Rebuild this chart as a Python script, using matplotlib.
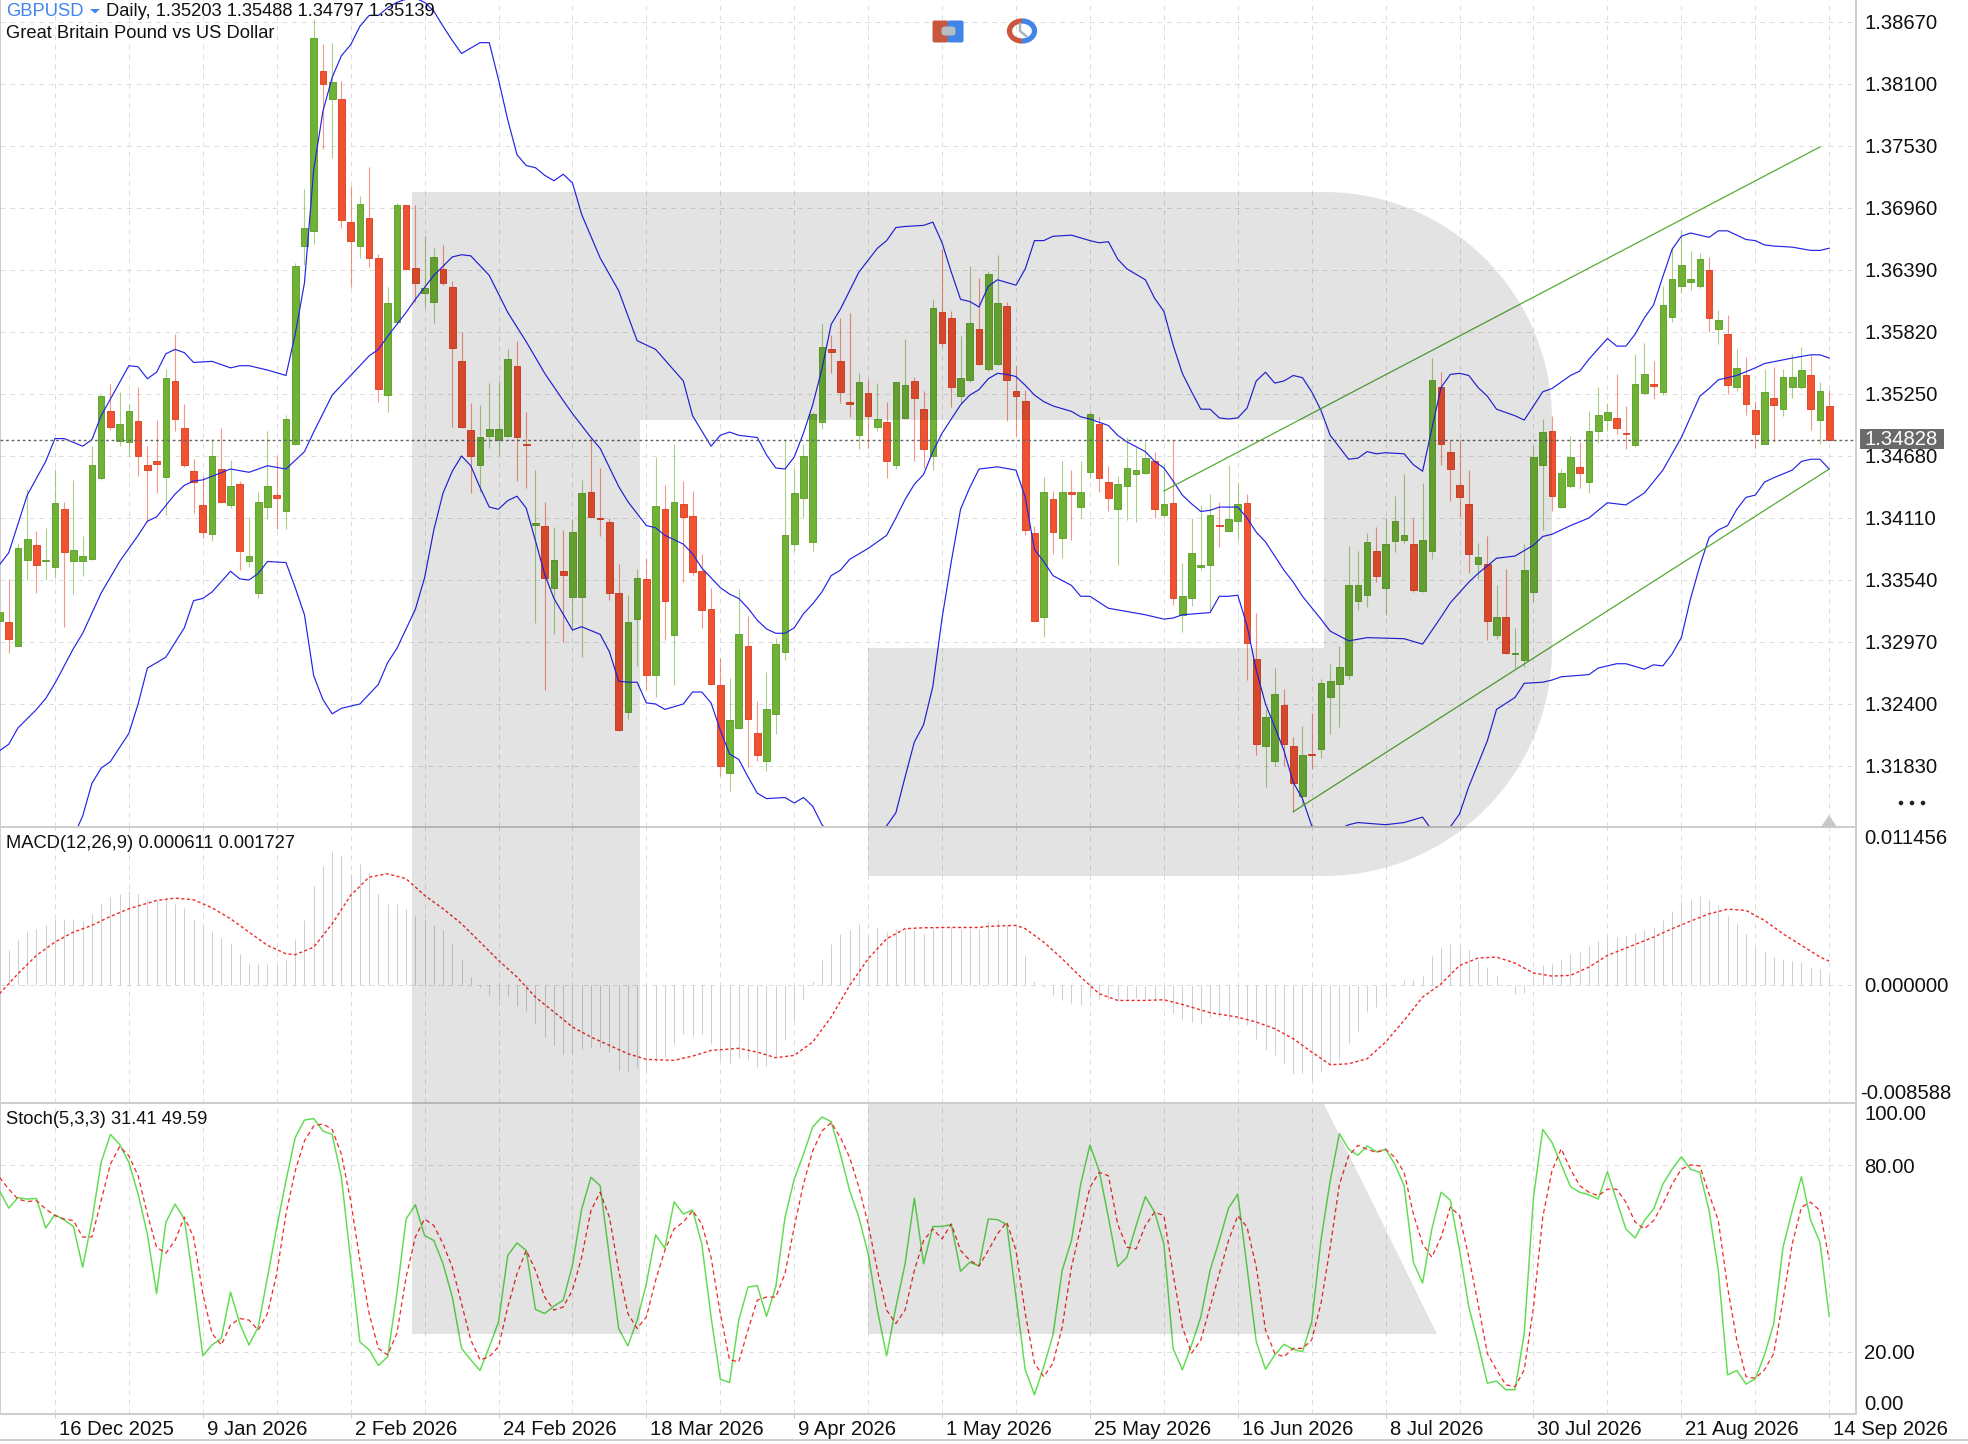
import matplotlib
matplotlib.use("Agg")
import matplotlib.pyplot as plt
from matplotlib.patches import Arc, FancyBboxPatch, PathPatch, Polygon, Rectangle, Circle
from matplotlib.path import Path
from matplotlib.transforms import ScaledTranslation

plt.rcParams["font.family"] = ["Liberation Sans", "DejaVu Sans"]

# candles, prices in 1/10000
open_pips = [13316,13315,13293,13372,13386,13371,13366,13419,13371,13371,
13373,13448,13509,13482,13481,13500,13460,13463,13449,13537,
13494,13454,13423,13396,13456,13423,13442,13371,13342,13421,
13432,13417,13479,13661,13675,13822,13796,13796,13683,13661,
13687,13650,13524,13591,13699,13641,13618,13610,13640,13623,
13555,13492,13460,13486,13483,13486,13551,13479,13405,13404,
13347,13362,13338,13338,13435,13411,13407,13342,13233,13318,
13355,13267,13419,13303,13424,13413,13362,13327,13257,13177,
13218,13293,13213,13188,13231,13288,13387,13429,13389,13499,
13566,13555,13518,13487,13526,13495,13499,13460,13503,13537,
13511,13468,13600,13595,13523,13538,13585,13548,13553,13606,
13528,13519,13397,13320,13428,13393,13435,13421,13453,13497,
13444,13419,13440,13451,13452,13463,13414,13425,13322,13337,
13366,13368,13405,13399,13408,13425,13281,13201,13188,13239,
13201,13155,13194,13199,13246,13258,13267,13335,13340,13381,
13347,13390,13391,13387,13344,13381,13531,13472,13441,13424,
13369,13369,13303,13320,13286,13280,13343,13460,13491,13421,
13440,13458,13444,13491,13501,13503,13489,13478,13526,13534,
13527,13596,13624,13628,13624,13639,13585,13580,13531,13542,
13510,13479,13521,13511,13531,13531,13542,13501,13514]
high_pips = [13334,13355,13388,13438,13399,13402,13456,13426,13446,13394,
13477,13524,13534,13527,13516,13531,13477,13501,13548,13580,
13516,13465,13450,13484,13494,13464,13445,13412,13435,13491,
13468,13506,13645,13713,13870,13847,13848,13813,13716,13707,
13734,13654,13623,13701,13699,13699,13670,13659,13662,13629,
13582,13517,13515,13535,13537,13566,13574,13508,13455,13426,
13403,13400,13410,13446,13484,13457,13411,13369,13340,13364,
13374,13467,13441,13479,13445,13436,13378,13347,13282,13264,
13346,13321,13243,13269,13301,13484,13457,13479,13508,13589,
13579,13595,13599,13544,13539,13535,13518,13536,13576,13541,
13528,13612,13658,13601,13578,13643,13632,13638,13653,13610,
13551,13529,13404,13449,13436,13463,13455,13463,13509,13504,
13459,13450,13485,13476,13481,13472,13461,13483,13370,13411,
13423,13433,13426,13460,13443,13433,13324,13235,13273,13254,
13210,13220,13232,13263,13277,13293,13385,13381,13397,13403,
13411,13431,13451,13411,13443,13558,13545,13483,13483,13455,
13388,13394,13349,13364,13310,13387,13477,13502,13505,13456,
13486,13481,13509,13531,13517,13543,13514,13562,13572,13555,
13624,13660,13676,13656,13655,13651,13602,13598,13566,13559,
13519,13548,13550,13548,13562,13568,13561,13536,13529]
low_pips = [13308,13287,13293,13354,13342,13354,13356,13311,13341,13358,
13372,13446,13492,13477,13468,13450,13407,13434,13414,13491,
13458,13416,13393,13390,13425,13420,13363,13366,13337,13410,
13401,13401,13478,13644,13663,13750,13742,13678,13623,13650,
13642,13518,13508,13589,13639,13610,13605,13590,13625,13495,
13494,13434,13435,13475,13469,13485,13445,13439,13314,13253,
13304,13297,13310,13283,13411,13394,13336,13215,13226,13275,
13253,13246,13299,13257,13352,13359,13310,13258,13174,13160,
13217,13182,13188,13178,13212,13280,13381,13411,13381,13493,
13544,13517,13504,13474,13475,13491,13448,13456,13503,13463,
13457,13455,13568,13513,13516,13536,13552,13546,13552,13500,
13486,13395,13316,13302,13378,13374,13391,13411,13448,13435,
13417,13368,13409,13407,13451,13411,13411,13331,13306,13330,
13363,13325,13384,13398,13391,13262,13193,13164,13183,13183,
13141,13147,13180,13190,13212,13219,13263,13326,13329,13352,
13322,13380,13388,13343,13343,13373,13460,13427,13412,13360,
13355,13299,13300,13286,13273,13274,13334,13400,13417,13420,
13439,13439,13434,13480,13491,13488,13474,13476,13525,13520,
13524,13591,13618,13621,13622,13582,13571,13525,13528,13506,
13475,13479,13481,13505,13521,13530,13492,13479,13483]
close_pips = [13325,13300,13383,13392,13368,13372,13425,13380,13382,13376,
13460,13523,13495,13497,13509,13468,13455,13461,13540,13502,
13460,13444,13398,13468,13426,13440,13381,13376,13426,13440,
13429,13502,13643,13678,13852,13810,13812,13685,13666,13700,
13650,13530,13609,13699,13640,13627,13622,13651,13627,13567,
13495,13468,13485,13493,13493,13557,13485,13478,13406,13356,
13372,13359,13398,13434,13412,13410,13342,13216,13315,13356,
13267,13422,13335,13426,13412,13361,13326,13258,13183,13225,
13304,13226,13193,13235,13295,13395,13434,13468,13507,13568,
13564,13527,13516,13536,13505,13502,13463,13536,13533,13521,
13474,13604,13572,13531,13540,13590,13553,13635,13609,13538,
13523,13400,13316,13435,13398,13435,13433,13435,13507,13448,
13429,13442,13457,13455,13466,13419,13424,13337,13339,13379,
13368,13414,13404,13410,13424,13296,13203,13228,13249,13203,
13167,13193,13193,13259,13261,13274,13349,13349,13389,13358,
13387,13408,13395,13345,13391,13538,13479,13456,13430,13378,
13375,13316,13320,13287,13287,13363,13467,13490,13431,13452,
13467,13452,13491,13506,13508,13494,13488,13534,13543,13532,
13607,13631,13644,13631,13649,13595,13593,13533,13549,13516,
13488,13527,13515,13541,13541,13547,13511,13528,13483]

# bollinger bands, read at the bends
upper_idx = [0,1,3,5,6,7,9,10,11,14,15,16,17,18,19,20,21,23,25,26,27,29,31,32,33,34,35,36,37,38,39,40,41,42,43,44,45,46,47,48,49,50,51,52,53,54,55,56,57,58,59,60,61,62,63,65,67,69,71,74,75,77,78,79,80,82,83,84,85,86,87,88,89,90,91,92,93,95,96,97,98,100,101,102,103,104,105,106,107,108,110,111,112,113,114,116,118,119,120,121,122,124,125,126,127,128,129,130,131,132,133,134,135,136,137,138,139,140,141,142,143,144,146,147,148,149,150,152,153,154,155,156,157,158,159,160,161,162,164,165,166,167,168,170,171,172,174,175,176,177,178,179,180,181,182,183,185,186,187,188,189,190,191,192,194,196,197,198]
upper_pips = [13368,13379,13432,13463,13484,13484,13477,13483,13505,13551,13550,13539,13545,13562,13566,13563,13554,13555,13549,13551,13551,13547,13542,13580,13627,13731,13785,13816,13836,13846,13863,13873,13873,13880,13885,13888,13889,13885,13877,13863,13850,13838,13843,13848,13848,13814,13777,13745,13735,13733,13726,13721,13727,13719,13690,13650,13620,13574,13566,13537,13505,13477,13487,13490,13487,13485,13469,13457,13456,13467,13489,13515,13548,13589,13603,13620,13637,13659,13666,13678,13679,13680,13683,13664,13637,13612,13610,13605,13624,13630,13625,13640,13666,13666,13670,13671,13666,13664,13665,13649,13640,13630,13613,13601,13570,13544,13527,13511,13511,13503,13502,13503,13512,13537,13545,13535,13537,13542,13540,13527,13510,13487,13465,13466,13472,13470,13471,13470,13460,13454,13493,13531,13543,13544,13542,13531,13523,13511,13505,13501,13514,13527,13530,13542,13546,13557,13576,13569,13569,13580,13595,13607,13633,13658,13670,13673,13669,13675,13675,13671,13667,13666,13662,13661,13660,13657,13657,13659]
middle_idx = [0,1,2,4,5,6,8,9,11,13,15,16,17,19,20,21,22,25,27,29,31,33,34,36,38,40,41,42,44,45,47,49,50,51,53,55,57,59,61,62,64,65,67,68,69,70,71,72,74,75,76,77,78,79,80,81,82,83,84,85,86,87,88,89,90,91,92,93,94,95,96,97,98,99,100,101,102,103,104,105,106,107,108,109,110,111,112,113,114,116,117,118,120,121,122,124,125,126,127,128,129,130,131,132,134,135,136,137,139,140,141,143,144,146,148,152,154,156,157,159,160,162,164,166,167,168,170,172,174,176,178,180,182,184,185,186,188,190,191,194,196,197,198]
middle_pips = [13197,13203,13218,13235,13245,13259,13291,13305,13342,13371,13395,13408,13412,13433,13441,13445,13446,13456,13453,13459,13456,13472,13490,13524,13542,13560,13566,13578,13600,13612,13634,13651,13653,13652,13634,13600,13573,13544,13519,13507,13485,13475,13440,13426,13415,13404,13402,13395,13387,13378,13365,13356,13347,13341,13337,13328,13317,13309,13305,13305,13310,13323,13332,13343,13358,13363,13373,13378,13383,13389,13395,13411,13428,13442,13451,13472,13489,13502,13515,13524,13529,13539,13544,13543,13541,13533,13524,13518,13514,13509,13504,13502,13496,13487,13481,13472,13463,13457,13445,13432,13424,13417,13418,13421,13421,13411,13398,13389,13363,13352,13339,13318,13307,13298,13301,13300,13295,13320,13333,13352,13360,13374,13376,13386,13394,13396,13404,13411,13425,13423,13434,13455,13485,13523,13530,13538,13542,13549,13553,13558,13561,13561,13558]
lower_idx = [8,9,10,11,12,14,15,16,18,20,21,22,23,25,26,27,28,29,31,32,33,34,35,36,37,39,41,42,43,45,46,47,48,49,50,51,52,53,54,55,56,57,58,59,60,62,63,65,66,67,68,69,70,71,72,74,75,76,77,78,79,80,81,82,83,85,86,87,88,89,90,93,95,96,97,98,99,100,101,102,103,104,105,106,108,110,111,112,113,114,116,117,118,120,124,126,127,128,131,132,133,134,135,136,137,138,139,140,141,142,143,144,145,146,147,150,152,154,155,156,157,158,159,161,162,164,165,167,168,169,172,173,175,176,178,179,180,181,182,183,184,185,186,187,188,189,190,191,192,194,195,196,197,198]
lower_pips = [13118,13137,13167,13181,13187,13213,13240,13273,13283,13310,13335,13337,13343,13362,13355,13354,13360,13371,13370,13347,13322,13266,13244,13231,13236,13240,13258,13278,13291,13327,13356,13400,13434,13454,13468,13459,13439,13421,13419,13427,13431,13420,13390,13359,13337,13308,13311,13304,13288,13261,13260,13260,13241,13240,13235,13240,13251,13251,13241,13216,13194,13189,13173,13158,13153,13154,13149,13154,13146,13129,13120,13090,13120,13128,13140,13173,13205,13221,13256,13319,13371,13419,13439,13456,13458,13455,13430,13382,13371,13358,13349,13339,13339,13328,13322,13318,13319,13322,13324,13339,13339,13340,13312,13271,13240,13219,13197,13168,13153,13128,13124,13122,13125,13129,13131,13129,13131,13136,13124,13119,13127,13139,13164,13206,13235,13246,13259,13260,13262,13265,13267,13273,13277,13277,13272,13276,13275,13286,13301,13337,13367,13393,13400,13404,13419,13430,13432,13444,13448,13455,13463,13465,13465,13456]

# green channel, candle index and price at both ends
channel_upper_idx = [126, 197]
channel_upper = [1.34358, 1.37521]
channel_lower_idx = [140, 198]
channel_lower = [1.31409, 1.34560]

last_price = 1.34828

price_ticks = [1.38670,1.38100,1.37530,1.36960,1.36390,1.35820,1.35250,1.34680,1.34110,1.33540,1.32970,1.32400,1.31830]
date_labels = ["16 Dec 2025","9 Jan 2026","2 Feb 2026","24 Feb 2026","18 Mar 2026","9 Apr 2026","1 May 2026","25 May 2026","16 Jun 2026","8 Jul 2026","30 Jul 2026","21 Aug 2026","14 Sep 2026"]

# macd, in 1/1000
macd_hist = [1.5,2.49,3.22,3.87,4.07,4.31,4.79,4.79,4.74,4.60,
5.15,5.95,6.36,6.61,6.78,6.56,6.12,6.12,6.17,5.88,
5.57,4.79,4.19,3.87,3.41,3.03,2.25,1.60,1.48,1.48,
1.48,1.82,3.29,4.72,7.16,8.62,9.68,9.39,8.06,8.74,
8.11,6.56,5.88,5.88,5.47,4.96,4.67,4.31,3.94,3.03,
1.77,0.56,-0.17,-0.77,-1.14,-0.85,-1.57,-1.91,-2.78,-3.80,
-4.40,-5.01,-5.01,-4.65,-4.53,-4.53,-4.89,-6.22,-6.27,-5.98,
-6.39,-5.61,-5.25,-4.33,-3.56,-3.75,-3.56,-4.28,-5.37,-5.74,
-5.30,-5.49,-5.98,-5.93,-5.25,-4.04,-2.59,-1.14,0.24,1.82,
2.98,3.65,3.99,4.38,3.58,4.19,3.82,4.07,3.94,3.94,
3.65,4.14,4.07,4.19,4.07,4.07,4.07,4.55,4.67,4.31,
4.24,2.13,0.24,-0.17,-0.77,-1.14,-1.33,-1.50,-0.90,-1.02,
-1.14,-1.14,-1.02,-0.94,-1.02,-1.09,-1.14,-2.06,-2.59,-2.71,
-2.88,-2.35,-2.35,-2.54,-2.59,-2.95,-3.92,-4.72,-5.08,-5.74,
-6.51,-6.39,-6.90,-6.34,-5.86,-5.37,-4.24,-3.36,-1.98,-1.62,
-0.90,-0.10,0.31,0.31,0.61,2.06,2.73,2.98,2.90,2.49,
1.82,1.28,0.61,-0.10,-0.70,-0.61,0.56,1.40,1.52,1.82,
2.20,2.37,2.78,3.17,3.46,3.46,3.58,3.75,3.99,4.14,
4.72,5.35,6.05,6.24,6.41,6.12,5.76,4.96,4.48,3.65,
2.73,2.44,2.01,1.84,1.69,1.65,1.28,1.16,0.56]
signal_idx = [0,2,4,6,8,10,12,14,17,19,21,23,25,27,29,31,32,34,36,38,40,42,44,46,48,50,52,54,56,58,60,62,64,66,68,70,73,75,77,80,82,84,86,88,90,92,94,96,98,100,103,106,107,110,111,113,115,117,119,121,124,126,128,131,134,136,138,140,142,144,146,148,150,152,154,156,158,160,162,164,166,168,170,172,174,177,179,181,183,185,187,189,191,193,195,197,198]
signal_vals = [-0.65,0.80,2.13,3.10,3.82,4.31,4.96,5.52,6.12,6.29,6.17,5.59,4.79,3.82,2.86,2.25,2.18,2.73,4.43,6.49,7.82,8.06,7.70,6.49,5.52,4.43,3.10,1.77,0.56,-0.90,-1.98,-3.07,-3.80,-4.40,-5.01,-5.42,-5.49,-5.18,-4.77,-4.62,-4.89,-5.30,-5.13,-4.16,-2.35,-0.05,1.89,3.34,4.07,4.14,4.16,4.16,4.24,4.31,4.07,3.10,1.89,0.56,-0.65,-1.14,-1.14,-1.09,-1.43,-2.03,-2.35,-2.71,-3.19,-3.92,-4.89,-5.81,-5.74,-5.37,-4.16,-2.59,-0.90,0.07,1.40,1.94,2.01,1.57,0.85,0.63,0.68,1.28,2.13,2.93,3.46,4.07,4.62,5.15,5.49,5.40,4.67,3.70,2.86,2.01,1.72]

stoch_k = [71.8,66.2,69.6,69.1,69.3,59.8,64.1,62.4,60.3,47.2,
62.2,80.9,89.9,86.7,80.9,70.7,57.9,38.7,61.6,67.5,
62.7,41.9,18.7,22.2,24.3,39.2,29.1,22.2,28.0,44.0,
60.0,75.0,88.9,94.5,95.0,91.0,89.9,76.1,49.4,23.2,
20.6,15.6,18.4,38.7,62.7,67.3,57.4,55.8,48.3,37.6,
21.1,17.4,14.0,21.6,29.6,51.0,55.0,52.6,33.6,32.3,
34.7,36.6,47.8,65.9,76.1,73.4,50.4,27.5,21.9,30.2,
41.9,57.6,53.3,68.2,64.3,65.6,54.7,31.2,11.2,10.1,
30.2,40.8,41.3,31.4,40.8,63.2,75.5,83.5,92.3,95.5,
94.0,83.5,71.8,63.2,51.5,33.4,18.7,34.4,48.3,69.4,
48.3,60.3,60.3,60.9,45.9,48.8,47.6,62.7,62.5,60.9,
37.6,14.2,6.2,15.2,25.4,46.2,55.8,73.9,86.5,78.2,
63.2,47.4,50.4,60.6,69.9,64.9,54.7,21.1,14.2,22.2,
31.2,46.2,55.8,66.2,70.7,47.2,23.2,14.4,19.0,22.4,
20.8,20.0,29.6,55.8,75.0,90.2,85.1,83.2,86.2,84.3,
85.1,80.3,73.4,48.8,42.1,59.5,71.3,68.8,52.6,34.4,
22.7,9.9,10.6,7.8,7.8,25.9,69.7,91.5,87.3,80.3,
73.1,71.3,70.5,69.1,77.9,68.6,59.5,56.6,62.2,65.9,
73.9,78.7,82.7,78.7,77.7,65.4,46.2,12.6,14.0,9.6,
11.3,19.0,29.1,53.6,65.4,76.3,62.2,55.2,31.41]
stoch_d = [76.1,72.3,69.1,68.3,68.6,65.9,63.8,62.7,62.2,56.9,
56.9,68.6,80.3,86.0,83.0,76.6,64.3,53.6,51.7,55.8,
63.3,56.9,38.7,25.9,22.2,28.6,30.7,30.2,27.0,32.3,
45.1,64.3,78.2,87.8,92.6,93.3,91.5,83.5,68.6,49.4,
32.3,21.1,19.0,25.9,44.0,56.9,62.7,60.6,54.7,47.2,
35.5,23.8,17.4,18.4,21.6,34.4,45.1,52.6,46.2,37.6,
33.4,34.4,39.8,50.4,65.4,71.3,63.3,46.2,32.3,27.5,
31.2,43.0,52.6,59.5,61.7,65.4,61.1,50.4,32.3,17.4,
16.8,27.0,36.6,37.6,37.6,45.1,60.1,73.9,84.6,91.0,
93.7,88.9,82.5,72.9,61.1,46.2,33.4,29.1,33.4,46.2,
55.8,59.5,56.3,61.1,52.6,49.4,47.6,52.6,57.9,61.7,
52.6,32.3,16.3,12.0,16.3,28.0,47.2,60.1,72.9,77.7,
76.6,61.1,53.6,53.1,60.6,64.9,63.8,45.1,28.0,19.5,
23.8,34.4,45.1,55.8,63.8,60.1,47.2,27.0,19.5,18.4,
21.1,21.1,23.8,35.5,53.6,73.9,83.0,86.4,85.1,84.1,
85.1,82.5,77.7,64.3,54.7,50.4,56.9,66.5,63.8,50.4,
35.5,19.5,14.2,9.4,8.8,14.2,34.4,63.3,78.2,85.3,
78.7,73.4,71.3,70.2,72.3,72.3,68.1,61.7,59.5,62.2,
67.5,73.9,78.7,80.1,79.8,70.7,62.2,40.8,23.8,12.0,
11.5,14.2,19.5,36.6,54.7,66.5,68.1,65.4,49.59]

GREEN = "#70b236"
GREEN_EDGE = "#64a431"
RED = "#f05232"
RED_EDGE = "#dc4a2c"
BLUE = "#2323e8"
GRID = "#dcdcdc"
AXIS = "#cdcdcd"
FONT_SIZE = 14.6

WIDTH = 1968
HEIGHT = 1444
PLOT_RIGHT = 1856
X_LEFT = 0.054
X_RIGHT = 200.9
DASH = (0, (5, 5))


def panel(fig, top, bottom):
    ax = fig.add_axes([0, 1 - bottom / HEIGHT, PLOT_RIGHT / WIDTH, (bottom - top) / HEIGHT])
    ax.set_facecolor("none")
    ax.set_xlim(X_LEFT, X_RIGHT)
    ax.yaxis.tick_right()
    ax.tick_params(axis="y", length=0, pad=6, labelsize=FONT_SIZE, labelcolor="#111111")
    ax.tick_params(axis="x", which="both", length=0, labelbottom=False)
    ax.set_xticks(list(range(6, 199, 8)))
    ax.grid(axis="x", color=GRID, linewidth=0.7, linestyle=DASH)
    for side in ax.spines:
        ax.spines[side].set_color(AXIS)
        ax.spines[side].set_linewidth(1.4)
    return ax


def nudgeLabel(lab, fig, dx, dy):
    lab.set_transform(lab.get_transform() + ScaledTranslation(dx / 100, dy / 100, fig.dpi_scale_trans))


def drawCandles(ax):
    idx = list(range(len(open_pips)))
    o = [v / 10000 for v in open_pips]
    h = [v / 10000 for v in high_pips]
    l = [v / 10000 for v in low_pips]
    c = [v / 10000 for v in close_pips]
    fill = [GREEN if c[i] >= o[i] else RED for i in idx]
    edge = [GREEN_EDGE if c[i] >= o[i] else RED_EDGE for i in idx]
    ax.vlines(idx, l, h, colors=fill, linewidth=0.8, alpha=0.6, zorder=2)
    bottoms = [min(o[i], c[i]) for i in idx]
    heights = [abs(c[i] - o[i]) for i in idx]
    ax.bar(idx, heights, bottom=bottoms, width=0.72, color=fill, edgecolor=edge, linewidth=0.7, zorder=3)


def drawWatermark(over):
    # logo lies over the marks and darkens them
    verts = [(412, 192), (1324, 192), (1450, 192), (1552, 294), (1552, 420), (1552, 648),
             (1552, 774), (1450, 876), (1324, 876), (868, 876), (868, 648), (1324, 648),
             (1324, 420), (640, 420), (640, 1334), (412, 1334), (412, 192)]
    codes = [Path.MOVETO, Path.LINETO, Path.CURVE4, Path.CURVE4, Path.CURVE4, Path.LINETO,
             Path.CURVE4, Path.CURVE4, Path.CURVE4, Path.LINETO, Path.LINETO, Path.LINETO,
             Path.LINETO, Path.LINETO, Path.LINETO, Path.LINETO, Path.CLOSEPOLY]
    over.add_patch(PathPatch(Path(verts, codes), facecolor="black", edgecolor="none", alpha=0.11, zorder=1))
    over.add_patch(Polygon([(868, 1104), (1324, 1104), (1437, 1334), (868, 1334)],
                           facecolor="black", edgecolor="none", alpha=0.11, zorder=1))


def drawOverlay(over):
    over.text(6, 11, "GBPUSD", color="#4285f0", fontsize=13.2, va="center", ha="left")
    over.add_patch(Polygon([(90, 9), (100, 9), (95, 13.5)], facecolor="#4285f0", edgecolor="none"))
    over.text(106, 11, "Daily, 1.35203 1.35488 1.34797 1.35139", color="#111111", fontsize=13.2, va="center")
    over.text(6, 34, "Great Britain Pound vs US Dollar", color="#111111", fontsize=13.2, va="center")
    over.text(6, 844, "MACD(12,26,9) 0.000611 0.001727", color="#111111", fontsize=13.2, va="center")
    over.text(6, 1119.5, "Stoch(5,3,3) 31.41 49.59", color="#111111", fontsize=13.2, va="center")

    # toolbar icons
    over.add_patch(FancyBboxPatch((934, 22), 13, 19, boxstyle="round,pad=1.5,rounding_size=2", facecolor="#c9573f", edgecolor="none"))
    over.add_patch(FancyBboxPatch((949, 22), 13, 19, boxstyle="round,pad=1.5,rounding_size=2", facecolor="#4285e8", edgecolor="none"))
    over.add_patch(FancyBboxPatch((943, 28), 11, 6, boxstyle="round,pad=1.5,rounding_size=3", facecolor="#b4bdc4", edgecolor="none"))
    over.add_patch(Arc((1022, 31), 25, 20, theta1=90, theta2=270, color="#c9573f", linewidth=3.8))
    over.add_patch(Arc((1022, 31), 25, 20, theta1=270, theta2=90, color="#4285e8", linewidth=3.8))
    over.plot([1020, 1020, 1026], [24, 31, 36], color="#a9b4bc", linewidth=1.8)

    for x in [1901, 1912, 1923]:
        over.add_patch(Circle((x, 803), 2.3, facecolor="#222222", edgecolor="none"))
    over.add_patch(Polygon([(1821, 827), (1837, 827), (1829, 815)], facecolor="#c8c8c8", edgecolor="none"))

    over.add_patch(Rectangle((1860, 429), 84, 20, facecolor="#6a6a6a", edgecolor="none", zorder=5))
    over.text(1864, 439.5, "%.5f" % last_price, color="white", fontsize=FONT_SIZE, va="center", zorder=6)
    over.plot([0, WIDTH], [1440, 1440], color=AXIS, linewidth=1.4)


def main():
    fig = plt.figure(figsize=(WIDTH / 100, HEIGHT / 100), dpi=100, facecolor="white")

    # price panel
    ax1 = panel(fig, 0, 827)
    ax1.set_ylim(1.31269, 1.38872)
    ax1.set_yticks(price_ticks)
    ax1.set_yticklabels(["%.5f" % v for v in price_ticks])
    ax1.grid(axis="y", color=GRID, linewidth=0.7, linestyle=DASH)
    ax1.set_axisbelow(True)
    ax1.spines["top"].set_visible(False)
    drawCandles(ax1)
    ax1.plot(upper_idx, [v / 10000 for v in upper_pips], color=BLUE, linewidth=0.85, zorder=4)
    ax1.plot(middle_idx, [v / 10000 for v in middle_pips], color=BLUE, linewidth=0.85, zorder=4)
    ax1.plot(lower_idx, [v / 10000 for v in lower_pips], color=BLUE, linewidth=0.85, zorder=4)
    ax1.plot(channel_upper_idx, channel_upper, color="#55ab33", linewidth=0.9, zorder=4)
    ax1.plot(channel_lower_idx, channel_lower, color="#55ab33", linewidth=0.9, zorder=4)
    ax1.axhline(last_price, color="#666666", linewidth=1.0, linestyle=(0, (2, 2)), zorder=4)

    # macd panel
    ax2 = panel(fig, 827, 1103)
    ax2.set_ylim(-0.008588, 0.011456)
    ax2.set_yticks([0.011456, 0.0, -0.008588])
    ax2.set_yticklabels(["0.011456", "0.000000", "-0.008588"])
    ax2.get_yticklabels()[0].set_va("top")
    ax2.get_yticklabels()[2].set_va("bottom")
    nudgeLabel(ax2.get_yticklabels()[0], fig, 0, -2)
    nudgeLabel(ax2.get_yticklabels()[2], fig, -4, 0)
    ax2.axhline(0, color=GRID, linewidth=0.7, linestyle=DASH)
    ax2.vlines(list(range(len(macd_hist))), 0, [v / 1000 for v in macd_hist], colors="#cfcfcf", linewidth=0.75, zorder=2)
    ax2.plot(signal_idx, [v / 1000 for v in signal_vals], color="#ee2a2a", linewidth=1.0, linestyle=(0, (2.2, 1.8)), zorder=3)

    # stochastic panel
    ax3 = panel(fig, 1103, 1414)
    ax3.set_ylim(0, 100)
    ax3.set_yticks([100, 80, 20, 0])
    ax3.set_yticklabels(["100.00", "80.00", "20.00", "0.00"])
    ax3.get_yticklabels()[0].set_va("top")
    ax3.get_yticklabels()[3].set_va("bottom")
    nudgeLabel(ax3.get_yticklabels()[0], fig, 0, -2)
    ax3.axhline(80, color=GRID, linewidth=0.7, linestyle=DASH)
    ax3.axhline(20, color=GRID, linewidth=0.7, linestyle=DASH)
    ax3.plot(range(len(stoch_k)), stoch_k, color="#5fdc50", linewidth=1.05, zorder=3)
    ax3.plot(range(len(stoch_d)), stoch_d, color="#ee2a2a", linewidth=0.9, linestyle=(0, (3.6, 2.6)), zorder=3)

    # date axis under the last panel
    label_ticks = list(range(6, 199, 16))
    sec = ax3.secondary_xaxis("bottom")
    sec.set_xticks(label_ticks)
    sec.set_xticklabels(date_labels)
    sec.tick_params(axis="x", length=3, color=AXIS, pad=1, labelsize=FONT_SIZE, labelcolor="#111111")
    sec.spines["bottom"].set_color(AXIS)
    for lab in sec.get_xticklabels():
        lab.set_ha("left")
        nudgeLabel(lab, fig, 4, 0)

    over = fig.add_axes([0, 0, 1, 1], zorder=10)
    over.set_xlim(0, WIDTH)
    over.set_ylim(HEIGHT, 0)
    over.axis("off")
    over.patch.set_visible(False)
    drawWatermark(over)
    drawOverlay(over)

    fig.savefig("out.png", dpi=100)


if __name__ == "__main__":
    main()
